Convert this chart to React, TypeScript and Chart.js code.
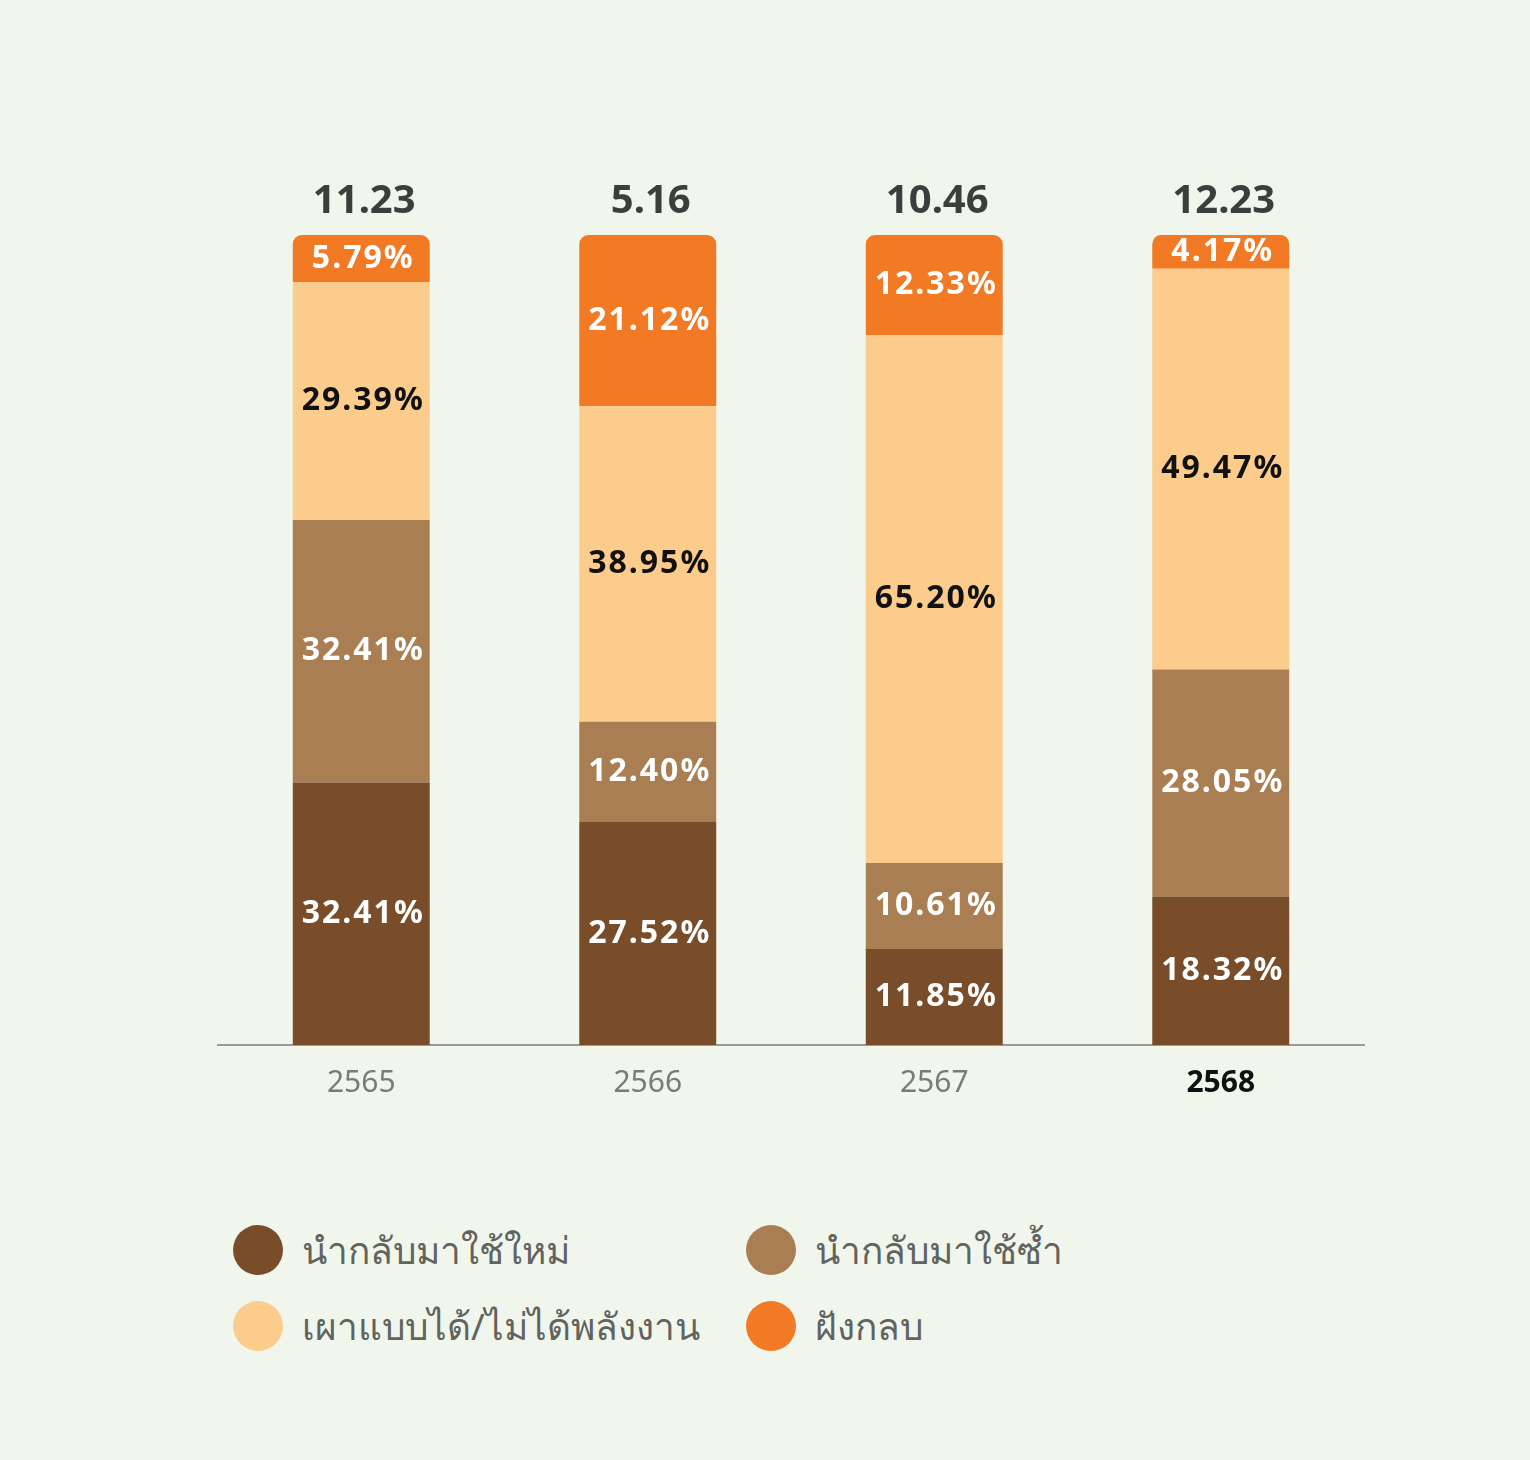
import { useEffect, useRef } from "react";
import { Chart, registerables } from "chart.js";

const years = ["2565", "2566", "2567", "2568"];
const totals = ["11.23", "5.16", "10.46", "12.23"];

const seriesNames = [
  "นำกลับมาใช้ใหม่",
  "นำกลับมาใช้ซ้ำ",
  "เผาแบบได้/ไม่ได้พลังงาน",
  "ฝังกลบ",
];
const recycle = [32.41, 27.52, 11.85, 18.32];
const reuse = [32.41, 12.4, 10.61, 28.05];
const burn = [29.39, 38.95, 65.2, 49.47];
const landfill = [5.79, 21.12, 12.33, 4.17];

const colors = ["#794d2a", "#a87e52", "#fccc8d", "#f27a24"];
const labelColors = ["#ffffff", "#ffffff", "#111111", "#ffffff"];
const BG = "#f1f6ec";
const FONT = "'Noto Sans', 'Open Sans', sans-serif";

const labelPlugin = {
  id: "segmentLabels",
  afterDatasetsDraw(chart: any) {
    const ctx = chart.ctx;
    ctx.save();
    ctx.textAlign = "center";
    ctx.textBaseline = "middle";
    ctx.font = `bold 32px ${FONT}`;
    (ctx as any).letterSpacing = "2px";
    chart.data.datasets.forEach((ds: any, di: number) => {
      const meta = chart.getDatasetMeta(di);
      meta.data.forEach((el: any, i: number) => {
        const v = ds.data[i];
        ctx.fillStyle = labelColors[di];
        ctx.fillText(v.toFixed(2) + "%", el.x + 2, (el.y + el.base) / 2);
      });
    });
    // totals above each bar
    const top = chart.getDatasetMeta(chart.data.datasets.length - 1);
    ctx.font = `bold 40px ${FONT}`;
    ctx.fillStyle = "#3b3e3b";
    ctx.textBaseline = "alphabetic";
    (ctx as any).letterSpacing = "0px";
    top.data.forEach((el: any, i: number) => {
      ctx.fillText(totals[i], el.x + 3, el.y - 22);
    });
    ctx.restore();
  },
};

export default function App() {
  const canvasRef = useRef<HTMLCanvasElement>(null);

  useEffect(() => {
    document.body.style.margin = "0";
    document.body.style.background = BG;
    Chart.register(...registerables);
    const ctx = canvasRef.current?.getContext("2d");
    if (!ctx) return;
    const values = [recycle, reuse, burn, landfill];
    const chart = new Chart(ctx, {
      type: "bar",
      data: {
        labels: years,
        datasets: values.map((d, i) => ({
          label: seriesNames[i],
          data: d,
          backgroundColor: colors[i],
          borderWidth: 0,
          borderSkipped: false,
          borderRadius:
            i === values.length - 1
              ? { topLeft: 9, topRight: 9, bottomLeft: 0, bottomRight: 0 }
              : 0,
          barPercentage: 0.478,
          categoryPercentage: 1,
        })),
      },
      options: {
        animation: false,
        responsive: false,
        devicePixelRatio: 1,
        layout: { padding: { left: 218, right: 166, top: 235, bottom: 10 } },
        plugins: {
          legend: { display: false },
          tooltip: { enabled: false },
        },
        scales: {
          x: {
            stacked: true,
            grid: { display: false },
            border: { display: true, color: "#9a9a9a", width: 2 },
            ticks: {
              padding: 12,
              color: (c: any) => (c.index === 3 ? "#111111" : "#7a7a7a"),
              font: (c: any) => ({
                family: FONT,
                size: 30,
                weight: c.index === 3 ? "bold" : "normal",
              }),
            },
            afterFit: (scale: any) => {
              scale.height = 75;
            },
          },
          y: {
            stacked: true,
            display: false,
            min: 0,
            max: 100,
          },
        },
      },
      plugins: [labelPlugin],
    });
    return () => chart.destroy();
  }, []);

  const legendPos = [
    { left: 233, top: 1225 },
    { left: 746, top: 1225 },
    { left: 233, top: 1301 },
    { left: 746, top: 1301 },
  ];

  return (
    <div
      style={{
        position: "relative",
        width: 1530,
        height: 1460,
        background: BG,
        fontFamily: FONT,
        overflow: "hidden",
      }}
    >
      <canvas
        ref={canvasRef}
        width={1530}
        height={1130}
        style={{ position: "absolute", left: 0, top: 0 }}
      />
      {seriesNames.map((name, i) => (
        <div
          key={name}
          style={{
            position: "absolute",
            left: legendPos[i].left,
            top: legendPos[i].top,
            height: 50,
            display: "flex",
            alignItems: "center",
            whiteSpace: "nowrap",
          }}
        >
          <span
            style={{
              width: 50,
              height: 50,
              borderRadius: "50%",
              background: colors[i],
              display: "inline-block",
              marginRight: 19,
            }}
          />
          <span style={{ fontSize: 37, color: "#61635e", lineHeight: "50px" }}>
            {name}
          </span>
        </div>
      ))}
    </div>
  );
}
